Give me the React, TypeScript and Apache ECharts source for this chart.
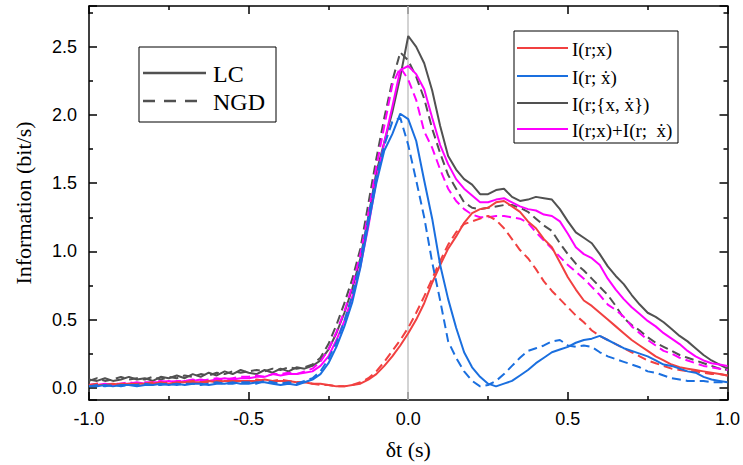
import React, { useEffect, useRef } from "react";
import * as echarts from "echarts";

// δt sampling grid (s): -1.0 … 1.0, every 0.025 s
const dt: number[] = Array.from({ length: 81 }, (_, i) => Math.round((-1 + i * 0.025) * 1000) / 1000);

// I(r;{x, ẋ}) — LC (solid) and NGD (dashed)
const jointLC = [
  0.06, 0.05, 0.07, 0.05, 0.06, 0.08, 0.06, 0.07, 0.05, 0.08,
  0.07, 0.09, 0.07, 0.10, 0.08, 0.11, 0.09, 0.12, 0.10, 0.13,
  0.11, 0.10, 0.13, 0.11, 0.14, 0.12, 0.15, 0.14, 0.16, 0.20,
  0.28, 0.40, 0.55, 0.73, 0.95, 1.25, 1.58, 1.80, 2.02, 2.28,
  2.58, 2.50, 2.38, 2.18, 1.92, 1.70, 1.60, 1.53, 1.49, 1.42,
  1.42, 1.45, 1.46, 1.40, 1.37, 1.38, 1.40, 1.39, 1.38, 1.31,
  1.22, 1.14, 1.10, 1.06, 0.98, 0.89, 0.82, 0.76, 0.68, 0.61,
  0.55, 0.52, 0.48, 0.43, 0.38, 0.34, 0.29, 0.24, 0.20, 0.17,
  0.14,
];
const jointNGD = [
  0.05, 0.07, 0.05, 0.06, 0.08, 0.06, 0.07, 0.06, 0.08, 0.06,
  0.08, 0.07, 0.09, 0.08, 0.10, 0.09, 0.11, 0.10, 0.12, 0.11,
  0.12, 0.13, 0.12, 0.14, 0.13, 0.15, 0.14, 0.15, 0.17, 0.22,
  0.32, 0.46, 0.62, 0.80, 1.02, 1.35, 1.68, 1.98, 2.25, 2.46,
  2.40, 2.28, 2.12, 1.90, 1.72, 1.56, 1.46, 1.36, 1.32, 1.31,
  1.32, 1.33, 1.34, 1.34, 1.32, 1.29, 1.24, 1.19, 1.15, 1.06,
  0.98, 0.91, 0.86, 0.80, 0.74, 0.68, 0.60, 0.51, 0.46, 0.42,
  0.37, 0.33, 0.30, 0.27, 0.24, 0.22, 0.20, 0.18, 0.16, 0.14,
  0.13,
];
// I(r;x)+I(r;ẋ)
const sumLC = [
  0.02, 0.02, 0.03, 0.02, 0.03, 0.03, 0.04, 0.03, 0.04, 0.04,
  0.05, 0.04, 0.05, 0.05, 0.06, 0.05, 0.06, 0.07, 0.06, 0.07,
  0.07, 0.08, 0.08, 0.10, 0.09, 0.10, 0.10, 0.11, 0.12, 0.16,
  0.23, 0.35, 0.49, 0.67, 0.89, 1.18, 1.52, 1.80, 2.06, 2.33,
  2.36, 2.30, 2.19, 1.98, 1.78, 1.64, 1.53, 1.46, 1.41, 1.36,
  1.36, 1.38, 1.39, 1.36, 1.33, 1.31, 1.30, 1.27, 1.26, 1.22,
  1.13, 1.03, 0.98, 0.95, 0.90, 0.80, 0.72, 0.65, 0.59, 0.54,
  0.49, 0.45, 0.40, 0.36, 0.32, 0.27, 0.23, 0.20, 0.18, 0.17,
  0.16,
];
const sumNGD = [
  0.02, 0.03, 0.02, 0.03, 0.03, 0.04, 0.03, 0.04, 0.04, 0.05,
  0.04, 0.05, 0.05, 0.06, 0.05, 0.06, 0.07, 0.06, 0.07, 0.08,
  0.08, 0.09, 0.08, 0.10, 0.10, 0.11, 0.10, 0.12, 0.14, 0.19,
  0.28, 0.41, 0.56, 0.75, 0.98, 1.28, 1.62, 1.92, 2.22, 2.35,
  2.26, 2.11, 1.88, 1.76, 1.60, 1.46, 1.37, 1.31, 1.27, 1.25,
  1.25, 1.26, 1.26, 1.25, 1.24, 1.21, 1.14, 1.08, 1.02, 0.96,
  0.90, 0.85, 0.80, 0.74, 0.68, 0.61, 0.57, 0.52, 0.45, 0.40,
  0.35, 0.31, 0.27, 0.25, 0.22, 0.20, 0.18, 0.16, 0.15, 0.14,
  0.13,
];
// I(r;x)
const xLC = [
  0.02, 0.02, 0.02, 0.03, 0.02, 0.03, 0.03, 0.03, 0.03, 0.04,
  0.03, 0.04, 0.04, 0.04, 0.04, 0.05, 0.04, 0.05, 0.05, 0.05,
  0.05, 0.05, 0.06, 0.05, 0.05, 0.05, 0.04, 0.04, 0.03, 0.03,
  0.02, 0.01, 0.01, 0.02, 0.03, 0.06, 0.10, 0.16, 0.23, 0.31,
  0.40, 0.50, 0.62, 0.77, 0.90, 1.02, 1.11, 1.21, 1.28, 1.31,
  1.32, 1.36, 1.37, 1.33, 1.29, 1.22, 1.17, 1.09, 1.03, 0.92,
  0.81, 0.72, 0.64, 0.60, 0.55, 0.50, 0.45, 0.40, 0.35, 0.31,
  0.27, 0.23, 0.20, 0.17, 0.15, 0.14, 0.13, 0.12, 0.11, 0.10,
  0.09,
];
const xNGD = [
  0.02, 0.03, 0.02, 0.02, 0.03, 0.03, 0.02, 0.03, 0.04, 0.03,
  0.04, 0.03, 0.04, 0.05, 0.04, 0.04, 0.05, 0.05, 0.04, 0.05,
  0.05, 0.06, 0.05, 0.05, 0.06, 0.05, 0.04, 0.04, 0.03, 0.02,
  0.02, 0.01, 0.01, 0.02, 0.04, 0.07, 0.12, 0.19, 0.27, 0.35,
  0.44, 0.55, 0.67, 0.80, 0.93, 1.05, 1.14, 1.20, 1.22, 1.24,
  1.26, 1.23, 1.17, 1.09, 1.01, 0.95, 0.87, 0.78, 0.71, 0.65,
  0.59, 0.53, 0.48, 0.42, 0.38, 0.35, 0.32, 0.29, 0.26, 0.23,
  0.20, 0.18, 0.16, 0.14, 0.13, 0.12, 0.12, 0.11, 0.10, 0.10,
  0.09,
];
// I(r;ẋ)
const vLC = [
  0.01, 0.01, 0.02, 0.01, 0.02, 0.02, 0.01, 0.02, 0.02, 0.03,
  0.02, 0.03, 0.02, 0.03, 0.03, 0.02, 0.03, 0.03, 0.04, 0.03,
  0.03, 0.04, 0.04, 0.03, 0.02, 0.03, 0.02, 0.04, 0.06, 0.10,
  0.18, 0.30, 0.45, 0.63, 0.88, 1.20, 1.50, 1.74, 1.86, 2.01,
  1.97, 1.81, 1.52, 1.24, 0.90, 0.65, 0.44, 0.26, 0.15, 0.08,
  0.03, 0.01, 0.03, 0.05, 0.09, 0.13, 0.18, 0.22, 0.26, 0.28,
  0.30, 0.33, 0.35, 0.36, 0.38, 0.35, 0.32, 0.29, 0.27, 0.25,
  0.23, 0.20, 0.17, 0.16, 0.14, 0.12, 0.11, 0.08, 0.06, 0.05,
  0.04,
];
const vNGD = [
  0.01, 0.02, 0.01, 0.02, 0.01, 0.02, 0.02, 0.03, 0.02, 0.02,
  0.03, 0.02, 0.03, 0.03, 0.02, 0.03, 0.04, 0.03, 0.03, 0.04,
  0.04, 0.03, 0.05, 0.04, 0.03, 0.04, 0.03, 0.05, 0.07, 0.12,
  0.21, 0.33, 0.49, 0.68, 0.93, 1.25, 1.55, 1.78, 1.95, 1.98,
  1.78, 1.52, 1.25, 0.92, 0.64, 0.34, 0.22, 0.12, 0.05, 0.01,
  0.02, 0.05, 0.10, 0.16, 0.22, 0.27, 0.29, 0.31, 0.34, 0.35,
  0.31, 0.30, 0.31, 0.30, 0.26, 0.23, 0.21, 0.19, 0.17, 0.15,
  0.12, 0.11, 0.09, 0.07, 0.06, 0.05, 0.05, 0.05, 0.04, 0.04,
  0.04,
];

const xTicks = [-1.0, -0.5, 0.0, 0.5, 1.0];
const legendNames = ["I(r;x)", "I(r; ẋ)", "I(r;{x, ẋ})", "I(r;x)+I(r;  ẋ)"];
const styleNames = ["LC", "NGD"];

const RED = "#F14040";
const BLUE = "#1A6FDF";
const GRAY = "#515151";
const MAGENTA = "#FF00FF";

const SERIF = '"Liberation Serif", "DejaVu Serif", serif';
const SANS = '"Liberation Sans", Arial, sans-serif';

const pts = (ys: number[]) => dt.map((x, i) => [x, ys[i]]);

function lineSeries(name: string, ys: number[], color: string, dashed: boolean, extra: any = {}) {
  return {
    type: "line",
    name,
    data: pts(ys),
    symbol: "none",
    showSymbol: false,
    smooth: false,
    lineStyle: { color, width: 2, type: dashed ? [9, 5] : "solid" },
    itemStyle: { color },
    ...extra,
  };
}

const tickStyle = { color: "#000", width: 1.5 };

function makeOption(): any {
  const xBase = {
    type: "value",
    min: xTicks[0],
    max: xTicks[xTicks.length - 1],
    interval: 0.5,
    splitLine: { show: false },
    axisLine: { show: true, onZero: false, lineStyle: { color: "#000", width: 1.5 } },
    axisTick: { show: true, inside: true, length: 8, lineStyle: tickStyle },
    minorTick: { show: true, splitNumber: 2, length: 4, lineStyle: tickStyle },
  };
  const yBase = {
    type: "value",
    min: -0.09,
    max: 2.8,
    splitNumber: 5,
    splitLine: { show: false },
    axisLine: { show: true, onZero: false, lineStyle: { color: "#000", width: 1.5 } },
    axisTick: { show: true, inside: true, length: 8, lineStyle: tickStyle },
    minorTick: { show: true, splitNumber: 2, length: 4, lineStyle: tickStyle },
  };
  const halfStep = (v: number) => Math.abs(v * 2 - Math.round(v * 2)) < 1e-6;

  const legendBoxes = [
    // LC / NGD box
    { type: "rect", shape: { x: 139, y: 47, width: 137, height: 75 }, style: { fill: "#fff", stroke: "#000", lineWidth: 1 }, z: 100 },
    { type: "line", shape: { x1: 143, y1: 73, x2: 206, y2: 73 }, style: { stroke: GRAY, lineWidth: 2.5 }, z: 101 },
    { type: "line", shape: { x1: 143, y1: 101, x2: 206, y2: 101 }, style: { stroke: GRAY, lineWidth: 2.5, lineDash: [12, 9] }, z: 101 },
    { type: "text", x: 213, y: 74, style: { text: styleNames[0], fontSize: 24, fontFamily: SERIF, fill: "#000", align: "left", verticalAlign: "middle" }, z: 101 },
    { type: "text", x: 213, y: 102, style: { text: styleNames[1], fontSize: 24, fontFamily: SERIF, fill: "#000", align: "left", verticalAlign: "middle" }, z: 101 },
    // series box
    { type: "rect", shape: { x: 514, y: 31, width: 164, height: 112 }, style: { fill: "#fff", stroke: "#000", lineWidth: 1 }, z: 100 },
  ];
  const rowY = [48, 76, 103, 129];
  const rowColor = [RED, BLUE, GRAY, MAGENTA];
  rowY.forEach((y, i) => {
    legendBoxes.push({ type: "line", shape: { x1: 517, y1: y, x2: 568, y2: y }, style: { stroke: rowColor[i], lineWidth: 2 }, z: 101 } as any);
    legendBoxes.push({ type: "text", x: 572, y: y + 1, style: { text: legendNames[i], fontSize: 19, fontFamily: SERIF, fill: "#000", align: "left", verticalAlign: "middle" }, z: 101 } as any);
  });

  return {
    animation: false,
    backgroundColor: "#fff",
    grid: { left: 89, right: 11, top: 6, bottom: 57, containLabel: false },
    xAxis: [
      {
        ...xBase,
        position: "bottom",
        axisLabel: { show: true, color: "#000", fontFamily: SANS, fontSize: 18, margin: 10, formatter: (v: number) => v.toFixed(1) },
        name: "δt (s)",
        nameLocation: "middle",
        nameGap: 38,
        nameTextStyle: { color: "#000", fontFamily: SERIF, fontSize: 22 },
      },
      { ...xBase, position: "top", axisLabel: { show: false } },
    ],
    yAxis: [
      {
        ...yBase,
        position: "left",
        axisLabel: {
          show: true,
          color: "#000",
          fontFamily: SANS,
          fontSize: 18,
          margin: 12,
          showMinLabel: false,
          showMaxLabel: false,
          formatter: (v: number) => (halfStep(v) ? v.toFixed(1) : ""),
        },
        name: "Information (bit/s)",
        nameLocation: "middle",
        nameGap: 55,
        nameTextStyle: { color: "#000", fontFamily: SERIF, fontSize: 22 },
      },
      { ...yBase, position: "right", axisLabel: { show: false } },
    ],
    series: [
      lineSeries("I(r;{x, ẋ}) LC", jointLC, GRAY, false, {
        markLine: {
          silent: true,
          symbol: "none",
          label: { show: false },
          lineStyle: { color: "#C4C4C4", width: 1.5, type: "solid" },
          data: [{ xAxis: 0 }],
          z: 1,
        },
      }),
      lineSeries("I(r;{x, ẋ}) NGD", jointNGD, GRAY, true),
      lineSeries("I(r;x)+I(r;ẋ) LC", sumLC, MAGENTA, false),
      lineSeries("I(r;x)+I(r;ẋ) NGD", sumNGD, MAGENTA, true),
      lineSeries("I(r;x) LC", xLC, RED, false),
      lineSeries("I(r;x) NGD", xNGD, RED, true),
      lineSeries("I(r;ẋ) LC", vLC, BLUE, false),
      lineSeries("I(r;ẋ) NGD", vNGD, BLUE, true),
    ],
    graphic: legendBoxes,
  };
}

export default function App() {
  const ref = useRef<HTMLDivElement>(null);
  useEffect(() => {
    if (!ref.current) return;
    const chart = echarts.init(ref.current, null, { renderer: "svg" });
    chart.setOption(makeOption());
    return () => chart.dispose();
  }, []);
  return <div ref={ref} style={{ position: "absolute", left: 0, top: 0, width: 743, height: 465 }} />;
}
